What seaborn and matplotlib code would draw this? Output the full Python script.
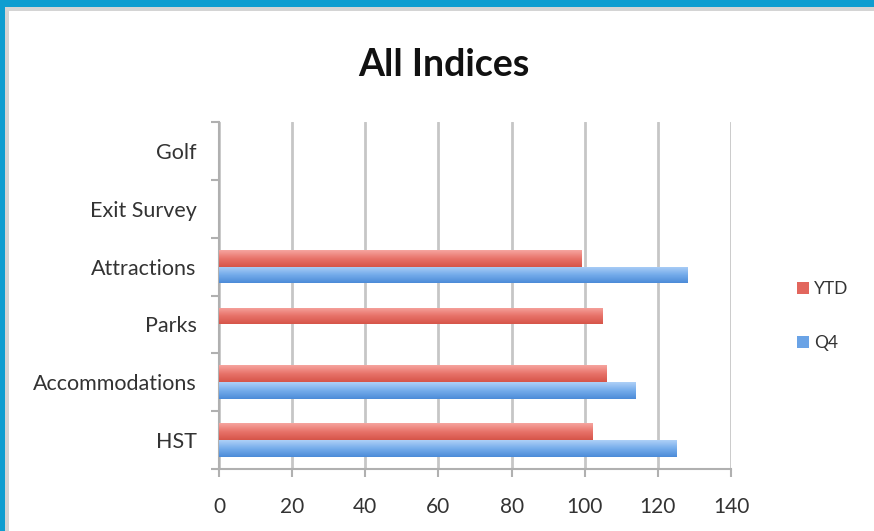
import numpy as np
import pandas as pd
import matplotlib
matplotlib.use("Agg")
import matplotlib.pyplot as plt
from matplotlib.patches import Rectangle
from matplotlib.colors import LinearSegmentedColormap
import seaborn as sns

# ---- data ----
categories = ["Golf", "Exit Survey", "Attractions", "Parks", "Accommodations", "HST"]
ytd_values = [np.nan, np.nan, 99, 105, 106, 102]
q4_values = [np.nan, np.nan, 128, np.nan, 114, 125]
series_names = ["YTD", "Q4"]
x_ticks = [0, 20, 40, 60, 80, 100, 120, 140]
title = "All Indices"

df = pd.DataFrame({
    "category": categories * 2,
    "series": [series_names[0]] * len(categories) + [series_names[1]] * len(categories),
    "value": ytd_values + q4_values,
})

sns.set_theme(style="white")
plt.rcParams["font.family"] = ["Lato", "DejaVu Sans"]

fig = plt.figure(figsize=(8.74, 5.31), dpi=100)
fig.patch.set_facecolor("white")

# frame decorations (blue band + gray inner shadow)
W, H = 874, 531
def fr(x0, y0, w, h, color):
    fig.patches.append(Rectangle((x0 / W, 1 - (y0 + h) / H), w / W, h / H,
                                 transform=fig.transFigure, color=color, zorder=0, lw=0))
fr(0, 7, 9, H - 7, "#d4d4d4")
fr(0, 7, W, 4, "#d4d4d4")
fr(0, 0, 5, H, "#0e9dd0")
fr(0, 0, W, 7, "#0e9dd0")

ax = fig.add_axes([219 / W, 1 - 469 / H, (731 - 219) / W, (469 - 122) / H])

palette = {"YTD": "#e2665d", "Q4": "#6aa3e6"}
sns.barplot(data=df, y="category", x="value", hue="series", order=categories,
            hue_order=series_names, palette=palette, orient="h", width=0.58,
            saturation=1, ax=ax, zorder=3, linewidth=0)

# gradient overlay on bars
grads = {
    "YTD": LinearSegmentedColormap.from_list("r", ["#f6a59f", "#e8736a", "#d65549"]),
    "Q4": LinearSegmentedColormap.from_list("b", ["#aed0f7", "#75aceb", "#4c8bd8"]),
}
grad_img = np.linspace(0, 1, 64).reshape(-1, 1)
for container, name in zip(ax.containers, series_names):
    for p in container.patches:
        w = p.get_width()
        if not np.isfinite(w) or w == 0:
            continue
        x0, y0 = p.get_x(), p.get_y()
        h = p.get_height()
        im = ax.imshow(grad_img, cmap=grads[name], aspect="auto",
                       extent=(x0, x0 + w, y0 + h, y0), origin="upper", zorder=4)
        im.set_clip_path(p)

ax.set_xlim(0, 140)
ax.set_ylim(len(categories) - 0.5, -0.5)
ax.set_xticks(x_ticks)
ax.set_xticklabels([str(t) for t in x_ticks])
ax.set_xlabel("")
ax.set_ylabel("")

# grid
ax.grid(axis="x", color="#c6c6c6", linewidth=2, zorder=1)
ax.grid(axis="y", visible=False)
ax.set_axisbelow(True)

for s in ["top", "right"]:
    ax.spines[s].set_visible(False)
for s in ["left", "bottom"]:
    ax.spines[s].set_color("#b0b0b0")
    ax.spines[s].set_linewidth(1.5)

ax.tick_params(axis="x", length=6, width=1.5, color="#b0b0b0", labelsize=15,
               labelcolor="#333333", pad=14, bottom=True)
ax.tick_params(axis="y", which="major", length=0, labelsize=15.5, labelcolor="#333333", pad=16)
ax.set_yticks(np.arange(-0.5, len(categories) + 0.5, 1), minor=True)
ax.tick_params(axis="y", which="minor", length=6, width=1.5, color="#b0b0b0", left=True)

# legend
handles, labels = ax.get_legend_handles_labels()
if ax.get_legend() is not None:
    ax.get_legend().remove()
leg = fig.legend(handles, labels, loc="center left",
                 bbox_to_anchor=(781 / W, 1 - 316 / H), frameon=False,
                 handlelength=0.7, handleheight=0.7, labelspacing=2.2,
                 handletextpad=0.3, fontsize=12.5)
for t in leg.get_texts():
    t.set_color("#333333")

fig.text(444 / W, 1 - 65 / H, title, ha="center", va="center",
         fontsize=27, fontweight="bold", color="#111111")

fig.savefig("out.png", dpi=100, facecolor="white")
